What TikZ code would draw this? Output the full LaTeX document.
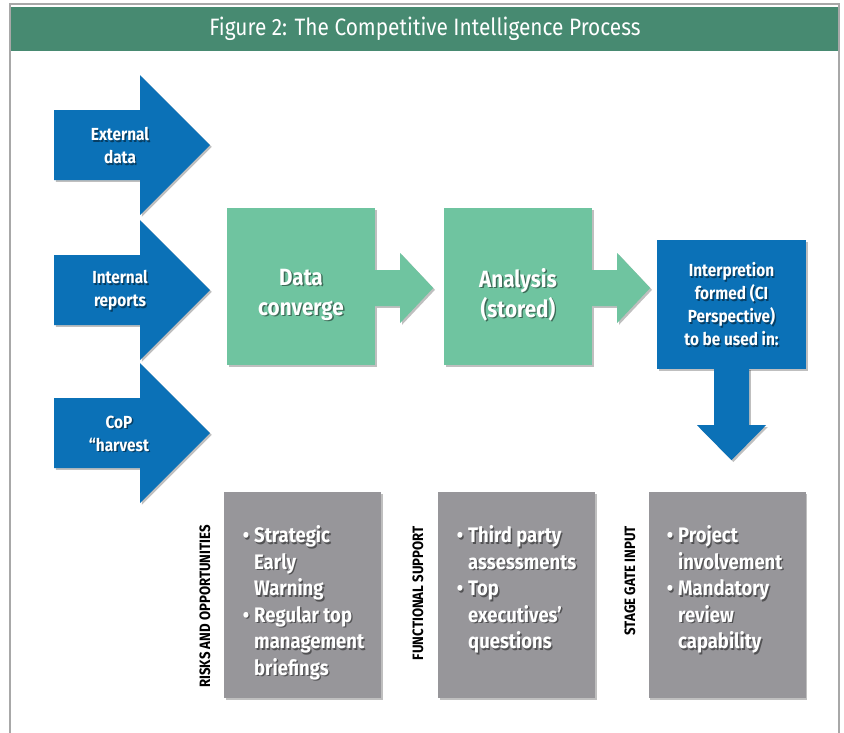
\documentclass[tikz,border=0pt]{standalone}
\usepackage{fontspec}
\setmainfont{Fira Sans}[FakeStretch=0.88]
\usetikzlibrary{calc,shadows}
\definecolor{hdr}{HTML}{478A71}
\definecolor{frm}{HTML}{A8A8A8}
\definecolor{cblue}{HTML}{0B71B7}
\definecolor{cgreen}{HTML}{6FC4A0}
\definecolor{cgray}{HTML}{97969A}
\newcommand\shtext[4]{%
  \node[#1,text=black,opacity=0.45] (#2s) at ($#3+(1.4,1.6)$) {#4};
  \node[#1] (#2) at #3 {#4};}
\newcommand\bigarrow[1]{%
  \fill[cblue,boxshadow] (54,#1-35) -- (140,#1-35) -- (140,#1-70) -- (210,#1)
    -- (140,#1+70) -- (140,#1+35) -- (54,#1+35) -- cycle;}
\newcommand\smallarrow[1]{%
  \fill[cgreen,boxshadow] ($(#1.east)+(0,-16.5)$) -- ++(25,0) -- ++(0,-17)
    -- ($(#1.east)+(58,1.5)$) -- ($(#1.east)+(25,36.5)$) -- ++(0,-17)
    -- ($(#1.east)+(0,19.5)$) -- cycle;}
\tikzset{
  boxshadow/.style={drop shadow={shadow xshift=1.8pt,shadow yshift=-1.8pt,opacity=0.25,fill=black}},
  gbox/.style={fill=cgreen,minimum width=148pt,minimum height=157pt,inner sep=0,boxshadow},
  bbox/.style={fill=cblue,minimum width=149pt,minimum height=129pt,inner sep=0,boxshadow},
  graybox/.style={fill=cgray,minimum width=157pt,minimum height=206pt,inner sep=0,boxshadow},
  title/.style={text=white,font=\fontsize{23.7}{28}\selectfont},
  atxt/.style={text=white,align=center,inner sep=0,font=\bfseries\fontsize{17.5}{23}\selectfont},
  gtxt/.style={text=white,align=center,inner sep=0,font=\bfseries\fontsize{23.5}{30}\selectfont},
  ltxt/.style={text=white,align=left,inner sep=0,anchor=north west,font=\bfseries\fontsize{21}{26.5}\selectfont},
  rlabel/.style={rotate=90,anchor=east,inner sep=0,font=\bfseries\fontsize{15}{16}\selectfont}
}
\newcommand\bul{\llap{\textbullet\hspace{5pt}}}
\begin{document}
\begin{tikzpicture}[x=1pt,y=-1pt]
\useasboundingbox (0,0) rectangle (844,732);
\fill[white] (0,0) rectangle (844,732);
% frame and header
\draw[frm,line width=2pt] (10,745) -- (10,4) -- (839,4) -- (839,745);
\fill[hdr] (11,7) rectangle (838,51);
\node[title] (title) at (425,29) {Figure 2: The Competitive Intelligence Process};
% input arrows
\bigarrow{145}
\bigarrow{290}
\bigarrow{433}
\shtext{atxt}{ext}{(120,145.5)}{External\\data}
\shtext{atxt}{int}{(120,290.5)}{Internal\\reports}
\shtext{atxt}{cop}{(119,433.5)}{CoP\\“harvest}
% process boxes
\node[gbox] (dc) at (301,286.5) {};
\node[gbox] (an) at (518,286.5) {};
\node[bbox] (ci) at (731.5,304.5) {};
\smallarrow{dc}
\smallarrow{an}
\fill[cblue,boxshadow] ($(ci.south)+(-17.5,-1)$) -- ++(0,57) -- ++(-17,0)
  -- ($(ci.south)+(0,91)$) -- ($(ci.south)+(34.5,56)$) -- ++(-17,0)
  -- ($(ci.south)+(17.5,-1)$) -- cycle;
\shtext{gtxt}{dct}{($(dc)+(0,8)$)}{Data\\converge}
\shtext{gtxt}{ant}{($(an)+(0,8)$)}{Analysis\\(stored)}
\shtext{atxt}{cit}{(731.5,304.5)}{Interpretion\\formed (CI\\Perspective)\\to be used in:}
% output boxes
\node[graybox] (g1) at (302.5,595) {};
\node[graybox] (g2) at (516.5,595) {};
\node[graybox] (g3) at (727,595) {};
\node[rlabel] (l1) at (205,525) {RISKS AND OPPORTUNITIES};
\node[rlabel] (l2) at (418,526) {FUNCTIONAL SUPPORT};
\node[rlabel] (l3) at (630,526) {STAGE GATE INPUT};
\shtext{ltxt}{t1}{(254,525.5)}{\bul Strategic\\Early\\Warning\\\bul Regular top\\management\\briefings}
\shtext{ltxt}{t2}{(468,525.5)}{\bul Third party\\assessments\\\bul Top\\executives’\\questions}
\shtext{ltxt}{t3}{(678,525.5)}{\bul Project\\involvement\\\bul Mandatory\\review\\capability}
\end{tikzpicture}
\end{document}
